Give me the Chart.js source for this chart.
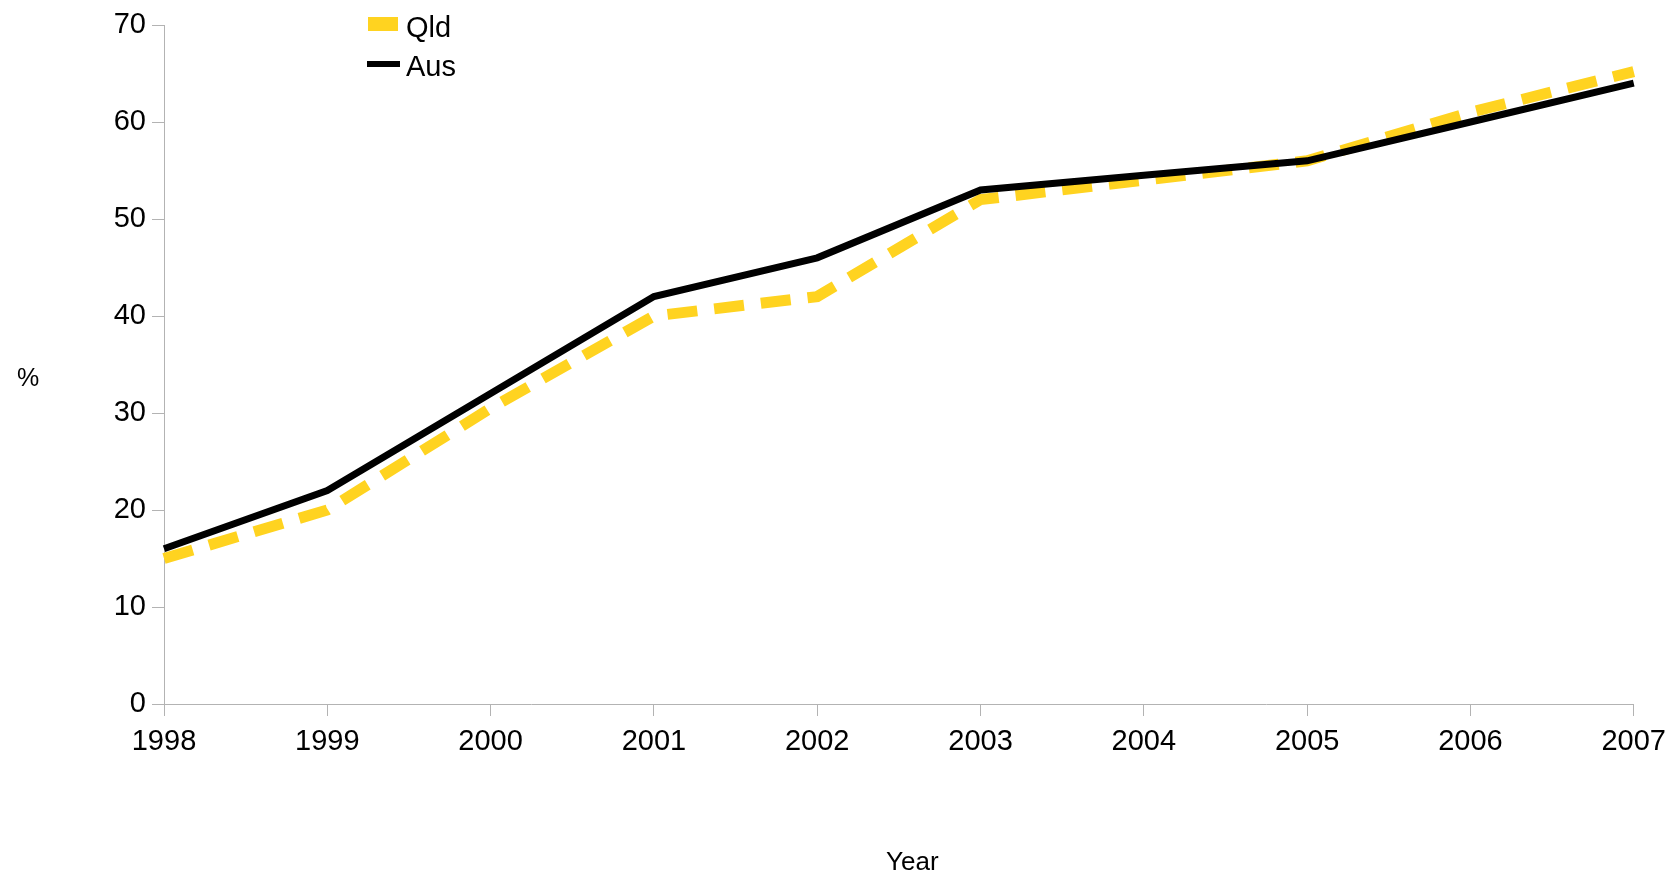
<!DOCTYPE html>
<html>
<head>
<meta charset="utf-8">
<script src="https://cdn.jsdelivr.net/npm/chart.js@4.4.1/dist/chart.umd.min.js"></script>
<style>
    body { margin: 0; background: #fff; font-family: "Liberation Sans", Arial, sans-serif; }
    #wrap { position: relative; width: 1675px; height: 873px; }
    .txt { position: absolute; color: #000; line-height: 1; white-space: nowrap; }
    .swatch { position: absolute; }
</style>
</head>
<body>
<div id="wrap">
    <canvas id="lineChart"></canvas>
    <!-- Легенда -->
    <div class="swatch" style="left:368px; top:17px; width:30px; height:14px; background:#ffd320;"></div>
    <div class="txt" style="left:406px; top:13px; font-size:29px;">Qld</div>
    <div class="swatch" style="left:367px; top:61px; width:33px; height:6px; background:#000;"></div>
    <div class="txt" style="left:406px; top:52px; font-size:29px;">Aus</div>
    <!-- Подписи осей -->
    <div class="txt" style="left:17px; top:365px; font-size:25px;">%</div>
    <div class="txt" style="left:886px; top:848px; font-size:26px;">Year</div>
</div>
<script>
// Данные
const years = ['1998', '1999', '2000', '2001', '2002', '2003', '2004', '2005', '2006', '2007'];
const qldValues = [15, 20, 30.5, 40, 42, 52, 54, 56, 61, 65.2];
const ausValues = [16, 22, 32, 42, 46, 53, 54.5, 56, 60, 64];
const yTicks = [0, 10, 20, 30, 40, 50, 60, 70];

const axisColor = '#b3b3b3';

const ctx = document.getElementById('lineChart').getContext('2d');
const lineChart = new Chart(ctx, {
    type: 'line',
    data: {
        labels: years,
        datasets: [
            {
                label: 'Qld',
                data: qldValues,
                borderColor: '#ffd320',
                borderWidth: 11,
                borderDash: [30, 17],
                pointRadius: 0,
                tension: 0,
                order: 1
            },
            {
                label: 'Aus',
                data: ausValues,
                borderColor: '#000000',
                borderWidth: 7,
                pointRadius: 0,
                tension: 0,
                order: 0 // черная линия поверх желтой
            }
        ]
    },
    options: {
        responsive: true,
        maintainAspectRatio: false,
        animation: false,
        layout: {
            padding: { top: 25, right: 33, bottom: 0, left: 0 }
        },
        plugins: {
            legend: { display: false },
            tooltip: { enabled: false }
        },
        scales: {
            x: {
                offset: false,
                afterFit: function(scale) { scale.height = 169; },
                grid: {
                    drawOnChartArea: false,
                    color: axisColor,
                    tickLength: 12
                },
                border: { color: axisColor },
                ticks: {
                    color: '#000',
                    padding: 9,
                    maxRotation: 0,
                    autoSkip: false,
                    font: { family: 'Liberation Sans', size: 29 }
                }
            },
            y: {
                min: 0,
                max: 70,
                afterFit: function(scale) { scale.width = 164; },
                afterBuildTicks: function(scale) {
                    scale.ticks = yTicks.map(v => ({ value: v }));
                },
                grid: {
                    drawOnChartArea: false,
                    color: axisColor,
                    tickLength: 12
                },
                border: { color: axisColor },
                ticks: {
                    color: '#000',
                    padding: 6,
                    font: { family: 'Liberation Sans', size: 29 }
                }
            }
        }
    }
});
</script>
</body>
</html>
